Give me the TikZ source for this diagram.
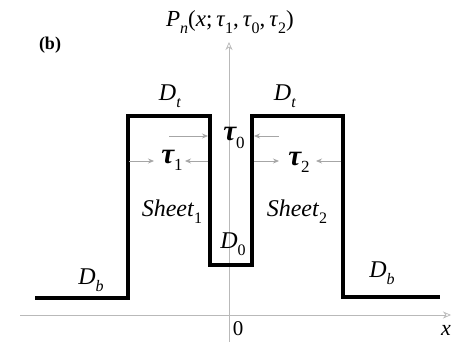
\documentclass[tikz,border=0pt]{standalone}
\usepackage{fontspec}
\setmainfont{Liberation Serif}
\usetikzlibrary{arrows.meta}
\newcommand{\lbl}[2]{\textit{#1}\raisebox{-0.3em}{\fontsize{16}{18}\selectfont\textit{#2}}}
\newcommand{\lbn}[2]{\textit{#1}\raisebox{-0.3em}{\fontsize{16}{18}\selectfont #2}}
\newcommand{\tauL}[1]{{\fontsize{29}{30}\selectfont\bfseries\itshape τ}\raisebox{-0.3em}{\fontsize{17}{18}\selectfont #1}}
\begin{document}
\begin{tikzpicture}[x=1pt,y=-1pt,
  curve/.style={line width=3.2pt,line join=miter,black},
  axis/.style={gray!55,line width=0.7pt,-{Stealth[open,length=8pt,width=7pt]}},
  thin arrow/.style={gray!70,line width=0.8pt,-{Stealth[length=6pt,width=5pt]}},
  lab/.style={font=\fontsize{24}{28}\selectfont,inner sep=0pt}]
\useasboundingbox (0,0) rectangle (452,342);
% axes
\draw[axis] (229,342) -- (229,42);
\draw[axis] (20,315) -- (451,315);
% profile
\draw[curve] (35,298) -- (128,298) -- (128,116) -- (210,116) -- (210,265)
  -- (252,265) -- (252,116) -- (343,116) -- (343,297) -- (440,297);
% arrows
\draw[thin arrow] (169,136) -- (208,136);
\draw[thin arrow] (279,136) -- (254,136);
\draw[thin arrow] (129,161) -- (154,161);
\draw[thin arrow] (208,161) -- (185,161);
\draw[thin arrow] (254,161) -- (279,161);
\draw[thin arrow] (341,161) -- (316,161);
% labels
\node[lab,font=\fontsize{23}{26}\selectfont] (title) at (230,22) {\lbl{P}{n}(\textit{x};\,\lbn{τ}{1},\,\lbn{τ}{0},\,\lbn{τ}{2})};
\node[lab,font=\fontsize{18}{20}\selectfont\bfseries] (b) at (50,45) {(b)};
\node[lab] (dt1) at (170,96) {\lbl{D}{t}};
\node[lab] (dt2) at (285,96) {\lbl{D}{t}};
\node[lab] (t0) at (234,138) {\tauL{0}};
\node[lab] (t1) at (172,160) {\tauL{1}};
\node[lab] (t2) at (299,162) {\tauL{2}};
\node[lab] (s1) at (172,212) {\lbn{Sheet}{1}};
\node[lab] (s2) at (297,212) {\lbn{Sheet}{2}};
\node[lab] (d0) at (233,244) {\lbn{D}{0}};
\node[lab] (db1) at (91,280) {\lbl{D}{b}};
\node[lab] (db2) at (382,273) {\lbl{D}{b}};
\node[lab,font=\fontsize{21}{24}\selectfont] (zero) at (238,329) {0};
\node[lab,font=\fontsize{22}{24}\selectfont\itshape] (xl) at (446,330) {x};
\end{tikzpicture}
\end{document}
